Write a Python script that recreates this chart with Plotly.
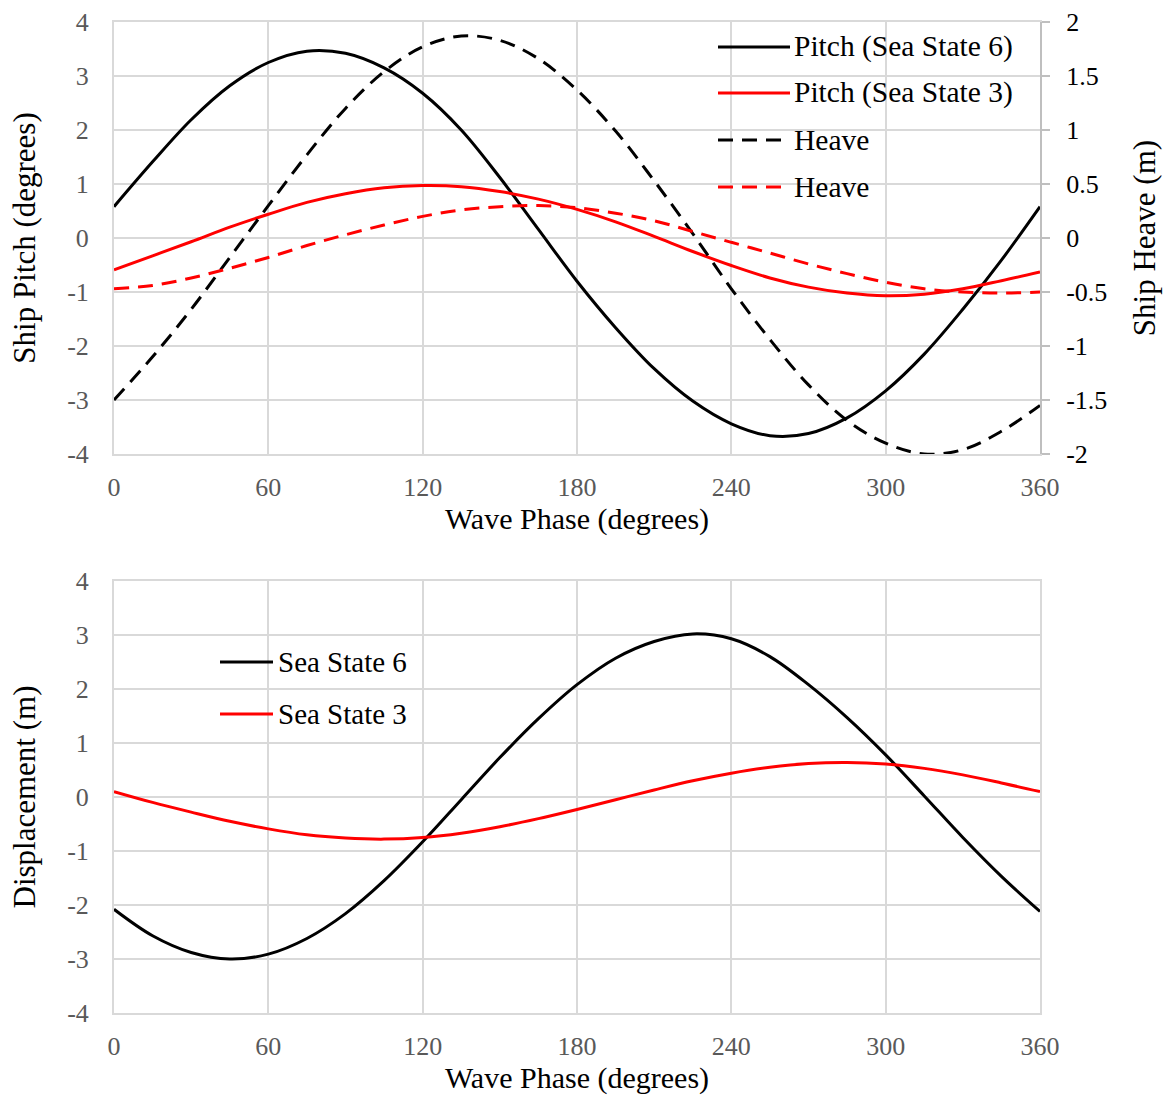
import plotly.graph_objects as go

# ---- data -------------------------------------------------------------
phase = [0, 15, 30, 45, 60, 75, 90, 105, 120, 135, 150, 165, 180,
         195, 210, 225, 240, 255, 270, 285, 300, 315, 330, 345, 360]

# Ship pitch (degrees), left axis of the upper panel
pitch_ss6 = [0.58, 1.41, 2.19, 2.82, 3.25, 3.46, 3.42, 3.15, 2.68, 2.00, 1.12, 0.16,
             -0.80, -1.66, -2.42, -3.02, -3.44, -3.66, -3.62, -3.33, -2.83, -2.15,
             -1.32, -0.41, 0.58]
pitch_ss3 = [-0.59, -0.33, -0.07, 0.20, 0.44, 0.66, 0.82, 0.93, 0.97, 0.95, 0.86, 0.72,
             0.53, 0.30, 0.03, -0.25, -0.51, -0.74, -0.91, -1.02, -1.07, -1.04,
             -0.94, -0.79, -0.63]

# Ship heave (m), right axis of the upper panel
heave_ss6 = [-1.50, -1.10, -0.66, -0.18, 0.30, 0.77, 1.20, 1.54, 1.77, 1.87, 1.83, 1.66,
             1.37, 0.99, 0.53, 0.04, -0.47, -0.94, -1.36, -1.69, -1.90, -2.00,
             -1.96, -1.79, -1.55]
heave_ss3 = [-0.47, -0.44, -0.37, -0.28, -0.18, -0.07, 0.03, 0.12, 0.20, 0.26, 0.29, 0.30,
             0.28, 0.23, 0.16, 0.06, -0.04, -0.14, -0.24, -0.33, -0.41, -0.47,
             -0.50, -0.51, -0.50]

# Wave displacement (m), lower panel
disp_ss6 = [-2.08, -2.57, -2.88, -3.00, -2.91, -2.62, -2.16, -1.55, -0.83, -0.05, 0.73, 1.45,
            2.08, 2.57, 2.88, 3.02, 2.93, 2.60, 2.08, 1.47, 0.78, 0.02,
            -0.75, -1.47, -2.12]
disp_ss3 = [0.10, -0.10, -0.28, -0.45, -0.59, -0.70, -0.76, -0.78, -0.75, -0.67, -0.55, -0.40,
            -0.23, -0.05, 0.13, 0.30, 0.44, 0.55, 0.62, 0.64, 0.61, 0.53,
            0.41, 0.26, 0.10]

x_ticks = [0, 60, 120, 180, 240, 300, 360]
x_ticktext = ["0", "60", "120", "180", "240", "300", "360"]
pitch_ticks = [4, 3, 2, 1, 0, -1, -2, -3, -4]
pitch_ticktext = ["4", "3", "2", "1", "0", "-1", "-2", "-3", "-4"]
heave_ticks = [2, 1.5, 1, 0.5, 0, -0.5, -1, -1.5, -2]
heave_ticktext = ["2", "1.5", "1", "0.5", "0", "-0.5", "-1", "-1.5", "-2"]
disp_ticks = pitch_ticks
disp_ticktext = pitch_ticktext

top_legend = ["Pitch (Sea State 6)", "Pitch (Sea State 3)", "Heave", "Heave"]
bottom_legend = ["Sea State 6", "Sea State 3"]

# ---- styling ----------------------------------------------------------
SERIF = "Liberation Serif, Times New Roman, serif"
GRID = "#d9d9d9"
TICK_GRAY = "#595959"
BLACK = "#000000"
RED = "#ff0000"
DASH = "15px,9px"
LW = 3

W, H = 1166, 1095
L, R, T, B = 114, 126, 22, 82
PLOT_H = H - T - B


def py(pixel_y):
    """Pixel row (from the top of the page) -> paper y."""
    return (H - B - pixel_y) / PLOT_H


def px(pixel_x):
    """Pixel column -> paper x."""
    return (pixel_x - L) / (W - L - R)


fig = go.Figure()

line_kw = dict(mode="lines", line_shape="spline", hoverinfo="x+y")
fig.add_trace(go.Scatter(x=phase, y=pitch_ss6, name=top_legend[0],
                         line=dict(color=BLACK, width=LW), xaxis="x", yaxis="y", **line_kw))
fig.add_trace(go.Scatter(x=phase, y=pitch_ss3, name=top_legend[1],
                         line=dict(color=RED, width=LW), xaxis="x", yaxis="y", **line_kw))
fig.add_trace(go.Scatter(x=phase, y=heave_ss6, name=top_legend[2],
                         line=dict(color=BLACK, width=LW, dash=DASH), xaxis="x", yaxis="y2", **line_kw))
fig.add_trace(go.Scatter(x=phase, y=heave_ss3, name=top_legend[3],
                         line=dict(color=RED, width=LW, dash=DASH), xaxis="x", yaxis="y2", **line_kw))
fig.add_trace(go.Scatter(x=phase, y=disp_ss6, name=bottom_legend[0],
                         line=dict(color=BLACK, width=LW), xaxis="x2", yaxis="y3", **line_kw))
fig.add_trace(go.Scatter(x=phase, y=disp_ss3, name=bottom_legend[1],
                         line=dict(color=RED, width=LW), xaxis="x2", yaxis="y3", **line_kw))

top_dom = [py(454), 1.0]
bot_dom = [0.0, py(581)]

title_font = dict(family=SERIF, size=31, color=BLACK)
x_title_font = dict(family=SERIF, size=30, color=BLACK)
tick_font = dict(family=SERIF, size=26, color=TICK_GRAY)

common_x = dict(range=[0, 360], tickvals=x_ticks, ticktext=x_ticktext,
                showgrid=True, gridcolor=GRID, gridwidth=2, zeroline=False,
                showline=True, mirror=True, linecolor=GRID, linewidth=2,
                ticks="", tickfont=tick_font, ticklabelstandoff=9,
                automargin=False, fixedrange=True)
common_y = dict(range=[-4, 4], showgrid=True, gridcolor=GRID, gridwidth=2, zeroline=False,
                showline=True, mirror=True, linecolor=GRID, linewidth=2,
                ticks="", tickfont=tick_font, ticklabelstandoff=18,
                automargin=False, fixedrange=True)

fig.update_layout(
    width=W, height=H,
    margin=dict(l=L, r=R, t=T, b=B, autoexpand=False),
    paper_bgcolor="white", plot_bgcolor="white",
    showlegend=False,
    font=dict(family=SERIF, size=26, color=TICK_GRAY),
    xaxis=dict(domain=[0, 1], anchor="y",
               title=dict(text="Wave Phase (degrees)", font=x_title_font, standoff=3),
               **common_x),
    yaxis=dict(domain=top_dom, anchor="x", tickvals=pitch_ticks, ticktext=pitch_ticktext,
               title=dict(text="Ship Pitch (degrees)", font=title_font, standoff=22),
               **common_y),
    yaxis2=dict(overlaying="y", side="right", anchor="x", range=[-2, 2],
                tickvals=heave_ticks, ticktext=heave_ticktext,
                showgrid=False, zeroline=False, showline=True, linecolor="#bfbfbf", linewidth=2,
                ticks="outside", ticklen=8, tickwidth=2, tickcolor="#bfbfbf",
                tickfont=dict(family=SERIF, size=26, color=BLACK), ticklabelstandoff=11,
                title=dict(text="Ship Heave (m)", font=title_font, standoff=27),
                automargin=False, fixedrange=True),
    xaxis2=dict(domain=[0, 1], anchor="y3",
                title=dict(text="Wave Phase (degrees)", font=x_title_font, standoff=3),
                **common_x),
    yaxis3=dict(domain=bot_dom, anchor="x2", tickvals=disp_ticks, ticktext=disp_ticktext,
                title=dict(text="Displacement (m)", font=title_font, standoff=22),
                **common_y),
)

# ---- legends drawn as line samples with labels -----------------------
shapes = []
annotations = []

top_rows = [(47, BLACK, "solid"), (93, RED, "solid"), (140, BLACK, DASH), (187, RED, DASH)]
for (row_y, color, dash), label in zip(top_rows, top_legend):
    shapes.append(dict(type="line", xref="paper", yref="paper",
                       x0=px(718), x1=px(790), y0=py(row_y), y1=py(row_y),
                       line=dict(color=color, width=LW, dash=dash)))
    annotations.append(dict(xref="paper", yref="paper", x=px(792), y=py(row_y),
                            text=label, showarrow=False, xanchor="left", yanchor="middle",
                            font=dict(family=SERIF, size=29.5, color=BLACK)))

bottom_rows = [(662, BLACK), (714, RED)]
for (row_y, color), label in zip(bottom_rows, bottom_legend):
    shapes.append(dict(type="line", xref="paper", yref="paper",
                       x0=px(220), x1=px(273), y0=py(row_y), y1=py(row_y),
                       line=dict(color=color, width=LW)))
    annotations.append(dict(xref="paper", yref="paper", x=px(276), y=py(row_y),
                            text=label, showarrow=False, xanchor="left", yanchor="middle",
                            font=dict(family=SERIF, size=29, color=BLACK)))

fig.update_layout(shapes=shapes, annotations=annotations)

fig.write_html("out.html")
